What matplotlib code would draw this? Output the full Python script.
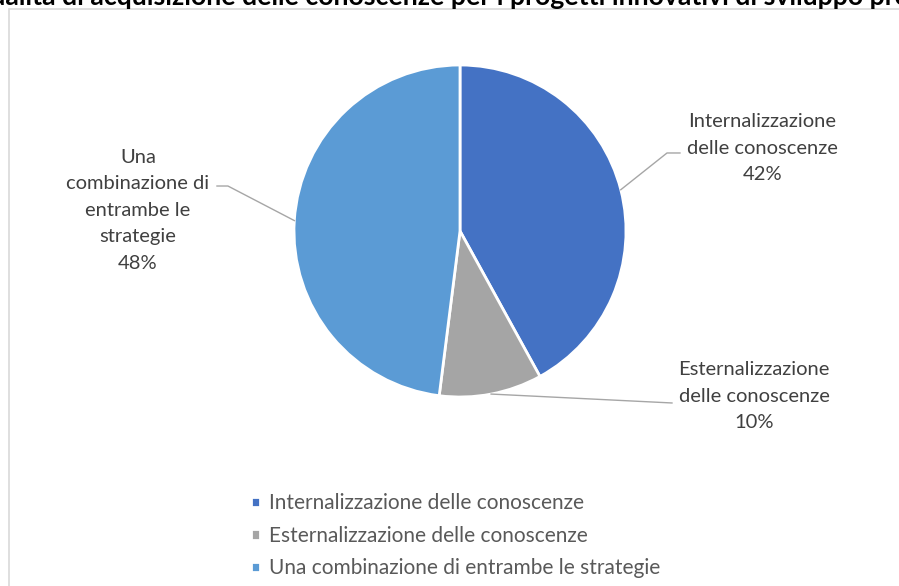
import numpy as np
import matplotlib
matplotlib.use("Agg")
import matplotlib.pyplot as plt
from matplotlib.patches import Rectangle

plt.rcParams['font.family'] = ['Lato', 'DejaVu Sans']

# dati del grafico
categorie = ["Internalizzazione delle conoscenze",
             "Esternalizzazione delle conoscenze",
             "Una combinazione di entrambe le strategie"]
etichette = ["Internalizzazione\ndelle conoscenze",
             "Esternalizzazione\ndelle conoscenze",
             "Una\ncombinazione di\nentrambe le\nstrategie"]
valori = [42, 10, 48]
colori = ["#4472C4", "#A5A5A5", "#5B9BD5"]
titolo = "Modalità di acquisizione delle conoscenze per i progetti innovativi di sviluppo prodotto"

W, H = 899, 586
fig = plt.figure(figsize=(W / 100, H / 100), dpi=100)
fig.patch.set_facecolor("white")

# cornice dell'area grafico
fig.patches.append(Rectangle((9 / W, -0.1), 1.2, (H - 9) / H + 0.1,
                             transform=fig.transFigure, fill=False,
                             edgecolor="#D9D9D9", lw=1.2))

# titolo (tagliato in alto)
fig.text(-50 / W, (H - 5) / H, titolo, fontsize=19.2, fontweight="bold",
         color="black", ha="left", va="baseline")

# torta: centro (460, 231) px, raggio 166 px
cx, cy, r = 460, 231, 166
ax = fig.add_axes([(cx - r) / W, (H - cy - r) / H, 2 * r / W, 2 * r / H])
wedges, _ = ax.pie(valori, colors=colori, startangle=90, counterclock=False,
                   radius=1, wedgeprops=dict(edgecolor="white", linewidth=2))
ax.set_xlim(-1, 1)
ax.set_ylim(-1, 1)
ax.set_aspect("equal")
ax.axis("off")

# posizioni delle etichette e dei gomiti delle linee guida (unità del raggio)
pos_testo = [(1.82, 0.500), (1.771, -0.994), (-1.94, 0.126)]
gomiti = [[(1.247, 0.470), (1.325, 0.470)],
          [(1.277, -1.036)],
          [(-1.398, 0.271), (-1.464, 0.271)]]

tot = sum(valori)
cum = 0
for i, v in enumerate(valori):
    mid = 90 - (cum + v / 2) / tot * 360
    cum += v
    x0, y0 = np.cos(np.radians(mid)), np.sin(np.radians(mid))
    punti = [(x0, y0)] + gomiti[i]
    xs, ys = zip(*punti)
    ax.plot(xs, ys, color="#A6A6A6", lw=1, clip_on=False)
    tx, ty = pos_testo[i]
    ax.text(tx, ty, f"{etichette[i]}\n{v / tot * 100:.0f}%", ha="center",
            va="center", fontsize=14.5, color="#404040", linespacing=1.68,
            clip_on=False)

fig.legend(wedges, categorie, loc="upper left",
           bbox_to_anchor=(241 / W, (H - 483) / H), frameon=False,
           fontsize=15, labelcolor="#595959", handlelength=0.4,
           handleheight=0.4, handletextpad=0.45, labelspacing=0.6,
           borderpad=0)

fig.savefig("out.png", dpi=100)
